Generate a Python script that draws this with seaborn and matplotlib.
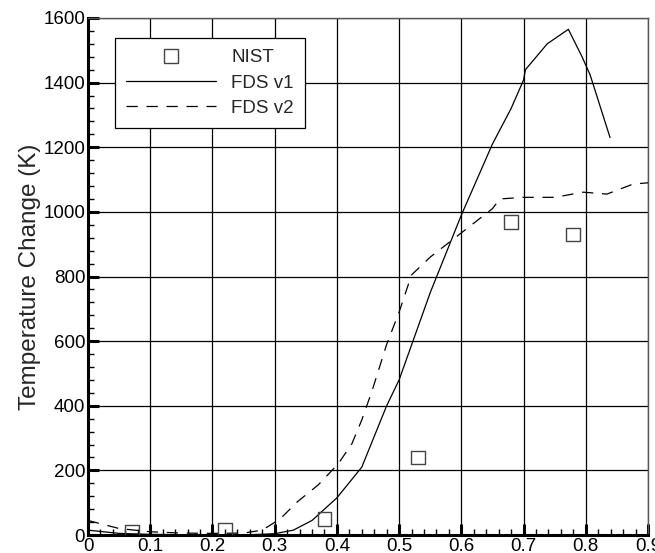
import matplotlib
matplotlib.use("Agg")
import matplotlib.pyplot as plt
import seaborn as sns
import pandas as pd
from matplotlib.ticker import MultipleLocator
from matplotlib.lines import Line2D

nist_x = [0.07, 0.22, 0.38, 0.53, 0.68, 0.78]
nist_y = [10, 15, 50, 240, 970, 930]

v1_x = [0.0, 0.05, 0.1, 0.15, 0.2, 0.25, 0.3, 0.33, 0.36, 0.4, 0.44, 0.48, 0.5, 0.55,
        0.6, 0.65, 0.68, 0.7, 0.703, 0.738, 0.772, 0.794, 0.807, 0.839]
v1_y = [15, 5, 2, 1, 0, 0, 4, 15, 45, 115, 210, 400, 480, 750,
        990, 1210, 1320, 1408, 1440, 1520, 1565, 1480, 1424, 1230]

v2_x = [0.0, 0.05, 0.1, 0.15, 0.2, 0.25, 0.28, 0.309, 0.336, 0.37, 0.402, 0.424, 0.44,
        0.457, 0.48, 0.5, 0.52, 0.55, 0.6, 0.65, 0.662, 0.7, 0.75, 0.796, 0.834, 0.876, 0.9]
v2_y = [45, 20, 10, 6, 5, 6, 15, 50, 102, 155, 220, 282, 356,
        449, 590, 690, 805, 860, 935, 1010, 1040, 1045, 1045, 1061, 1055, 1086, 1090]

tick_labels = ["0", "0.1", "0.2", "0.3", "0.4", "0.5", "0.6", "0.7", "0.8", "0.9"]

sns.set_style("white")
plt.rcParams['font.family'] = ['Liberation Sans', 'DejaVu Sans']

fig = plt.figure(figsize=(6.55, 5.53), dpi=100)
ax = fig.add_axes([88/655, 1 - 535/553, 560/655, 517/553])

df1 = pd.DataFrame({"x": v1_x, "y": v1_y})
df2 = pd.DataFrame({"x": v2_x, "y": v2_y})
dfn = pd.DataFrame({"x": nist_x, "y": nist_y})

sns.lineplot(data=df1, x="x", y="y", ax=ax, color="black", lw=0.9, sort=False, zorder=3)
sns.lineplot(data=df2, x="x", y="y", ax=ax, color="black", lw=0.9, sort=False, zorder=3)
ax.lines[-1].set_dashes([9, 7])
sns.scatterplot(data=dfn, x="x", y="y", ax=ax, marker="s", s=100,
                facecolor="none", edgecolor="#444444", linewidth=1.0, zorder=4)

ax.set_xlim(0, 0.9)
ax.set_ylim(0, 1600)
ax.set_xticks([0, 0.1, 0.2, 0.3, 0.4, 0.5, 0.6, 0.7, 0.8, 0.9])
ax.set_xticklabels(tick_labels)
ax.xaxis.set_minor_locator(MultipleLocator(0.02))
ax.yaxis.set_major_locator(MultipleLocator(200))
ax.yaxis.set_minor_locator(MultipleLocator(40))
ax.grid(True, which="major", color="black", lw=0.9)
ax.tick_params(which="major", direction="in", length=8, width=2.2, labelsize=13.5, pad=2,
               colors="black")
ax.tick_params(which="minor", direction="in", length=4, width=1, colors="black")
ax.tick_params(axis="x", which="both", bottom=True)
ax.tick_params(axis="y", which="both", left=True)
for s in ["left", "bottom"]:
    ax.spines[s].set_linewidth(2.2)
    ax.spines[s].set_color("black")
for s in ["top", "right"]:
    ax.spines[s].set_linewidth(1.0)
    ax.spines[s].set_color("#555555")
ax.set_xlabel("")
ax.set_ylabel("Temperature Change (K)", fontsize=17.5, labelpad=2)

handles = [
    Line2D([], [], ls="none", marker="s", markersize=9.5, markerfacecolor="none",
           markeredgecolor="#444444", markeredgewidth=1.0),
    Line2D([], [], color="black", lw=0.9),
    Line2D([], [], color="black", lw=0.9, dashes=[9, 7]),
]
leg = ax.legend(handles, ["NIST", "FDS v1", "FDS v2"], loc="upper left",
                bbox_to_anchor=((115-88)/560, (535-38)/517), fontsize=13.5,
                frameon=True, fancybox=False, framealpha=1, edgecolor="black",
                handlelength=4.8, handletextpad=0.8, labelspacing=0.43,
                borderpad=0.6, borderaxespad=0)
leg.get_frame().set_linewidth(0.9)
leg.set_zorder(10)

fig.savefig("out.png", dpi=100)
